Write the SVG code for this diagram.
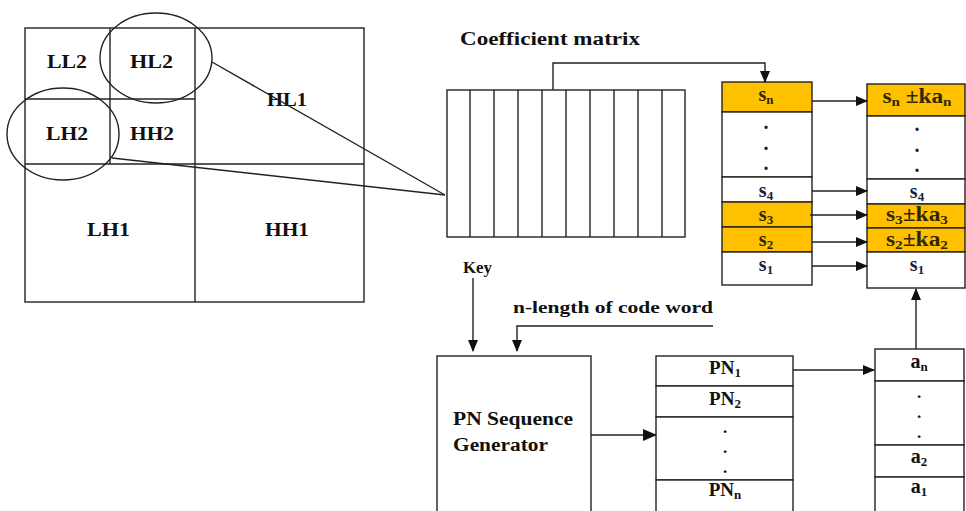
<svg xmlns="http://www.w3.org/2000/svg" width="966" height="511" viewBox="0 0 966 511">
<style>
.ln{fill:none;stroke:#222;stroke-width:1.4}
.bx{fill:#fff;stroke:#222;stroke-width:1.4}
.or{fill:#FFC000;stroke:#222;stroke-width:1.4}
text{font-family:"Liberation Serif","Times New Roman",serif;font-weight:700;fill:#111}
.lb{font-size:19px}
.s{font-size:20px;text-anchor:middle;fill:#1c1c3c}
.so{font-size:20px;text-anchor:middle;fill:#2e2800}
.sub{font-size:13px}
.m{text-anchor:middle}
</style>
<defs>
<marker id="ah" markerUnits="userSpaceOnUse" markerWidth="12" markerHeight="10" refX="11" refY="5" orient="auto">
<path d="M0,0 L12,5 L0,10 Z" fill="#111"/>
</marker>
<marker id="ahb" markerUnits="userSpaceOnUse" markerWidth="14" markerHeight="12" refX="13" refY="6" orient="auto">
<path d="M0,0 L14,6 L0,12 Z" fill="#111"/>
</marker>
</defs>

<g id="subbands" font-family="Liberation Serif, serif" font-weight="bold">
<rect class="bx" x="25" y="28" width="339" height="274"/>
<line class="ln" x1="195" y1="28" x2="195" y2="302"/>
<line class="ln" x1="25" y1="164" x2="364" y2="164"/>
<line class="ln" x1="110" y1="28" x2="110" y2="164"/>
<line class="ln" x1="25" y1="99" x2="195" y2="99"/>
<text class="lb" x="47" y="68" textLength="40" lengthAdjust="spacingAndGlyphs">LL2</text>
<text class="lb" x="130" y="68" textLength="43" lengthAdjust="spacingAndGlyphs">HL2</text>
<text class="lb" x="46" y="140" textLength="42" lengthAdjust="spacingAndGlyphs">LH2</text>
<text class="lb" x="130" y="140" textLength="44" lengthAdjust="spacingAndGlyphs">HH2</text>
<text class="lb" x="267" y="106" textLength="40" lengthAdjust="spacingAndGlyphs">HL1</text>
<text class="lb" x="87" y="236" textLength="43" lengthAdjust="spacingAndGlyphs">LH1</text>
<text class="lb" x="265" y="236" textLength="44" lengthAdjust="spacingAndGlyphs">HH1</text>
<ellipse class="ln" cx="156" cy="58" rx="56" ry="45"/>
<ellipse class="ln" cx="63" cy="134" rx="56" ry="46"/>
</g>

<g id="coefficient-matrix">
<text x="460" y="45" font-size="19" textLength="180" lengthAdjust="spacingAndGlyphs">Coefficient matrix</text>
<rect class="bx" x="447" y="90" width="238" height="147"/>
<path class="ln" d="M470,90V237M494,90V237M518,90V237M542,90V237M566,90V237M590,90V237M614,90V237M638,90V237M662,90V237"/>
</g>

<g id="s-table">
<rect class="or" x="722" y="82" width="90" height="30"/>
<rect class="bx" x="722" y="112" width="90" height="65"/>
<rect class="bx" x="722" y="177" width="90" height="25"/>
<rect class="or" x="722" y="202" width="90" height="25"/>
<rect class="or" x="722" y="227" width="90" height="25"/>
<rect class="bx" x="722" y="252" width="90" height="33"/>
<text class="so" x="766" y="101">s<tspan class="sub" dy="3">n</tspan></text>
<text class="s" x="766" y="129">.</text>
<text class="s" x="766" y="150">.</text>
<text class="s" x="766" y="170">.</text>
<text class="s" x="766" y="197">s<tspan class="sub" dy="3">4</tspan></text>
<text class="so" x="766" y="221">s<tspan class="sub" dy="3">3</tspan></text>
<text class="so" x="766" y="246">s<tspan class="sub" dy="3">2</tspan></text>
<text class="s" x="766" y="271">s<tspan class="sub" dy="3">1</tspan></text>
</g>

<g id="watermarked-table">
<rect class="or" x="867" y="84" width="98" height="32"/>
<rect class="bx" x="867" y="116" width="98" height="63"/>
<rect class="bx" x="867" y="179" width="98" height="25"/>
<rect class="or" x="867" y="204" width="98" height="24"/>
<rect class="or" x="867" y="228" width="98" height="24"/>
<rect class="bx" x="867" y="252" width="98" height="36"/>
<text class="so" x="917" y="103" textLength="69" lengthAdjust="spacingAndGlyphs">s<tspan class="sub" dy="3">n</tspan><tspan dy="-3"> ±ka</tspan><tspan class="sub" dy="3">n</tspan></text>
<text class="s" x="917" y="131">.</text>
<text class="s" x="917" y="152">.</text>
<text class="s" x="917" y="172">.</text>
<text class="s" x="917" y="198">s<tspan class="sub" dy="3">4</tspan></text>
<text class="so" x="917" y="221" textLength="62" lengthAdjust="spacingAndGlyphs">s<tspan class="sub" dy="3">3</tspan><tspan dy="-3">±ka</tspan><tspan class="sub" dy="3">3</tspan></text>
<text class="so" x="917" y="246" textLength="62" lengthAdjust="spacingAndGlyphs">s<tspan class="sub" dy="3">2</tspan><tspan dy="-3">±ka</tspan><tspan class="sub" dy="3">2</tspan></text>
<text class="s" x="917" y="271">s<tspan class="sub" dy="3">1</tspan></text>
</g>

<g id="pn-generator">
<rect class="bx" x="437" y="356" width="154" height="170"/>
<text x="453" y="425" font-size="18" textLength="120" lengthAdjust="spacingAndGlyphs">PN Sequence</text>
<text x="453" y="451" font-size="18" textLength="95" lengthAdjust="spacingAndGlyphs">Generator</text>
</g>

<g id="labels">
<text x="463" y="273" font-size="17" textLength="29" lengthAdjust="spacingAndGlyphs">Key</text>
<text x="513" y="313" font-size="17" textLength="200" lengthAdjust="spacingAndGlyphs">n-length of code word</text>
</g>

<g id="pn-table">
<rect class="bx" x="656" y="356" width="137" height="30"/>
<rect class="bx" x="656" y="386" width="137" height="31"/>
<rect class="bx" x="656" y="417" width="137" height="63"/>
<rect class="bx" x="656" y="480" width="137" height="40"/>
<text class="m" x="725" y="374" font-size="19">PN<tspan class="sub" dy="3">1</tspan></text>
<text class="m" x="725" y="405" font-size="19">PN<tspan class="sub" dy="3">2</tspan></text>
<text class="m" x="725" y="433" font-size="17">.</text>
<text class="m" x="725" y="453" font-size="17">.</text>
<text class="m" x="725" y="473" font-size="17">.</text>
<text class="m" x="725" y="496" font-size="19">PN<tspan class="sub" dy="3">n</tspan></text>
</g>

<g id="a-table">
<rect class="bx" x="875" y="349" width="89" height="32"/>
<rect class="bx" x="875" y="381" width="89" height="64"/>
<rect class="bx" x="875" y="445" width="89" height="32"/>
<rect class="bx" x="875" y="477" width="89" height="45"/>
<text class="m" x="919" y="368" font-size="20">a<tspan class="sub" dy="3">n</tspan></text>
<text class="m" x="919" y="398" font-size="17">.</text>
<text class="m" x="919" y="418" font-size="17">.</text>
<text class="m" x="919" y="438" font-size="17">.</text>
<text class="m" x="919" y="463" font-size="20">a<tspan class="sub" dy="3">2</tspan></text>
<text class="m" x="919" y="493" font-size="20">a<tspan class="sub" dy="3">1</tspan></text>
</g>

<g id="connectors">
<line class="ln" x1="212" y1="62" x2="445" y2="195"/>
<line class="ln" x1="112" y1="158" x2="445" y2="195"/>
<path class="ln" d="M553,90V63H765V82" marker-end="url(#ah)"/>
<path class="ln" d="M812,101H867" marker-end="url(#ah)"/>
<path class="ln" d="M812,191H867" marker-end="url(#ah)"/>
<path class="ln" d="M810,215H867" marker-end="url(#ah)"/>
<path class="ln" d="M812,242H867" marker-end="url(#ah)"/>
<path class="ln" d="M812,266H867" marker-end="url(#ah)"/>
<path class="ln" d="M473,278V351" marker-end="url(#ah)"/>
<path class="ln" d="M713,326H517V351" marker-end="url(#ah)"/>
<path class="ln" d="M591,435H656" stroke-width="4" marker-end="url(#ahb)"/>
<path class="ln" d="M793,370H874" marker-end="url(#ah)"/>
<path class="ln" d="M916,349V289" marker-end="url(#ah)"/>
</g>
</svg>
